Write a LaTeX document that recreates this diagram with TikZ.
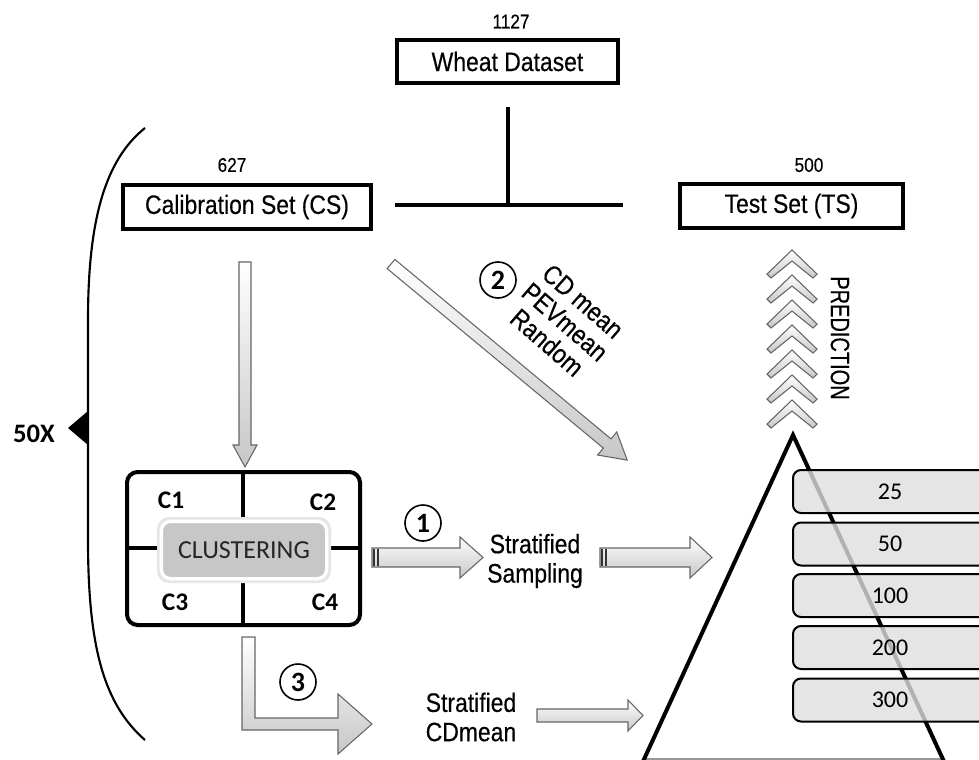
\documentclass[tikz,border=0pt]{standalone}
\usepackage{fontspec}
\setmainfont{Liberation Sans}
\newfontfamily\nar[FakeStretch=0.86,FakeBold=0.35]{Liberation Sans}
\newfontfamily\narp[FakeStretch=0.75,FakeBold=0.35]{Liberation Sans}
\newfontfamily\cali{Carlito}
\usetikzlibrary{calc}
\tikzset{
  setbox/.style={draw, line width=3pt, inner sep=0pt, font=\nar\fontsize{20}{22}\selectfont},
  smallnum/.style={inner sep=0pt, font=\nar\fontsize{15}{16}\selectfont},
  lbl/.style={inner sep=0pt, align=center, font=\nar\fontsize{20}{22}\selectfont},
  blockarrow/.style={draw=black!60, line width=0.8pt, top color=white, bottom color=black!22, line join=miter},
  circnum/.style={circle, draw, line width=1.2pt, minimum size=27pt, inner sep=0pt, fill=white, font=\cali\bfseries\fontsize{21}{24}\selectfont},
  clab/.style={inner sep=0pt, font=\cali\bfseries\fontsize{19}{22}\selectfont},
  barbox/.style={draw, line width=1.5pt, rounded corners=6pt, fill=black!13, fill opacity=0.8, text opacity=1, minimum width=145.5pt, minimum height=32.25pt, inner sep=0pt, font=\cali\fontsize{18}{20}\selectfont},
  thick3/.style={line width=3pt}
}
\begin{document}
\begin{tikzpicture}[x=0.75pt,y=-0.75pt]
\useasboundingbox (0,0) rectangle (979,760);

% boxes
\node[setbox, minimum width=165.75pt, minimum height=32.25pt] (wheat) at (507.5,61.5) {Wheat Dataset};
\node[smallnum] (n1127) at (511,21.5) {1127};
\node[setbox, minimum width=186pt, minimum height=33pt] (cs) at (247,207) {Calibration Set (CS)};
\node[smallnum] (n627) at (232,165) {627};
\node[setbox, minimum width=167.25pt, minimum height=33pt] (ts) at (791.5,206) {Test Set (TS)};
\node[smallnum] (n500) at (809,165) {500};

% split connector
\coordinate (tv) at (508,107);
\coordinate (tj) at (508,205);
\coordinate (tl) at (395,205);
\coordinate (tr) at (623,205);
\draw[thick3] (tv) -- (tj);
\draw[thick3] (tl) -- (tr);

% big parenthesis and 50X
\draw[line width=1.6pt] (145,128) .. controls (105,160) and (88,220) .. (88,320) -- (88,540) .. controls (88,650) and (105,705) .. (145,740);
\fill (68,428) -- (88,411) -- (88,445) -- cycle;
\node[clab, font=\cali\bfseries\fontsize{20}{22}\selectfont] (fifty) at (34,434) {50X};

% down arrow from CS
\draw[blockarrow] (239,262) -- (251,262) -- (251,445) -- (257,445) -- (245,467) -- (233,445) -- (239,445) -- cycle;

% clustering box
\draw[thick3, rounded corners=8pt] (127,472) rectangle (360,625);
\draw[thick3] (243,472) -- (243,625);
\draw[thick3] (127,548) -- (360,548);
\fill[black!10, rounded corners=9pt] (157,517) rectangle (331,583);
\node[fill=black!22, draw=white, line width=2.5pt, rounded corners=7pt, minimum width=124pt, minimum height=43pt, inner sep=0pt, font=\cali\fontsize{19.5}{22}\selectfont, text=black!85] (clus) at (244,550) {CLUSTERING};
\node[clab] (c1) at (171,500) {C1};
\node[clab] (c2) at (323,502) {C2};
\node[clab] (c3) at (175,602) {C3};
\node[clab] (c4) at (325,602) {C4};

% diagonal arrow (2)
\begin{scope}[shift={(391,264)}, rotate=-39.7]
\draw[blockarrow] (0,-6) -- (281,-6) -- (281,-15) -- (307,0) -- (281,15) -- (281,6) -- (0,6) -- cycle;
\end{scope}
\node[circnum] (o2) at (498,280) {2};
\node[lbl, rotate=-41, font=\nar\fontsize{20}{20.5}\selectfont] (methods) at (565,322) {CD mean\\PEVmean\\Random};

% arrow (1)
\draw[blockarrow] (372,548) -- (460,548) -- (460,537) -- (483,557.5) -- (460,578) -- (460,567) -- (372,567) -- cycle;
\draw[line width=1.2pt, black!80] (374,549) -- (374,566);
\draw[line width=1.2pt, black!80] (378,549) -- (378,566);
\node[circnum] (o1) at (423,523) {1};
\node[lbl] (strs) at (535,561) {Stratified\\Sampling};
\draw[blockarrow] (600,548) -- (690,548) -- (690,537) -- (712,557.5) -- (690,578) -- (690,567) -- (600,567) -- cycle;
\draw[line width=1.2pt, black!80] (602,549) -- (602,566);
\draw[line width=1.2pt, black!80] (606,549) -- (606,566);

% arrow (3)
\draw[blockarrow] (242,637) -- (255,637) -- (255,718) -- (338,718) -- (338,694) -- (372,724) -- (338,754) -- (338,730) -- (242,730) -- cycle;
\node[circnum] (o3) at (298,682) {3};
\node[lbl] (strc) at (471,717) {Stratified\\CDmean};
\draw[blockarrow] (537,709) -- (628,709) -- (628,700) -- (643,715.5) -- (628,731) -- (628,722) -- (537,722) -- cycle;

% pyramid
\draw[black!40, line width=1pt] (642,759) -- (944,759);
\draw[thick3, line join=miter] (640,768) -- (793,435) -- (947,768);

% sample size bars
\foreach \v/\y in {25/491.5, 50/544, 100/595.5, 200/647.5, 300/700}{
  \node[barbox] (bar\v) at (890,\y) {\v};
}

% prediction chevrons
\foreach \k in {0,...,6}{
  \begin{scope}[shift={(792,{250+25*\k})}]
    \draw[blockarrow] (0,0) -- (25,24) -- (21,28) -- (0,11) -- (-21,28) -- (-25,24) -- cycle;
  \end{scope}
}
\node[rotate=-90, inner sep=0pt, font=\narp\fontsize{20}{22}\selectfont] (pred) at (840,338) {PREDICTION};
\end{tikzpicture}
\end{document}
